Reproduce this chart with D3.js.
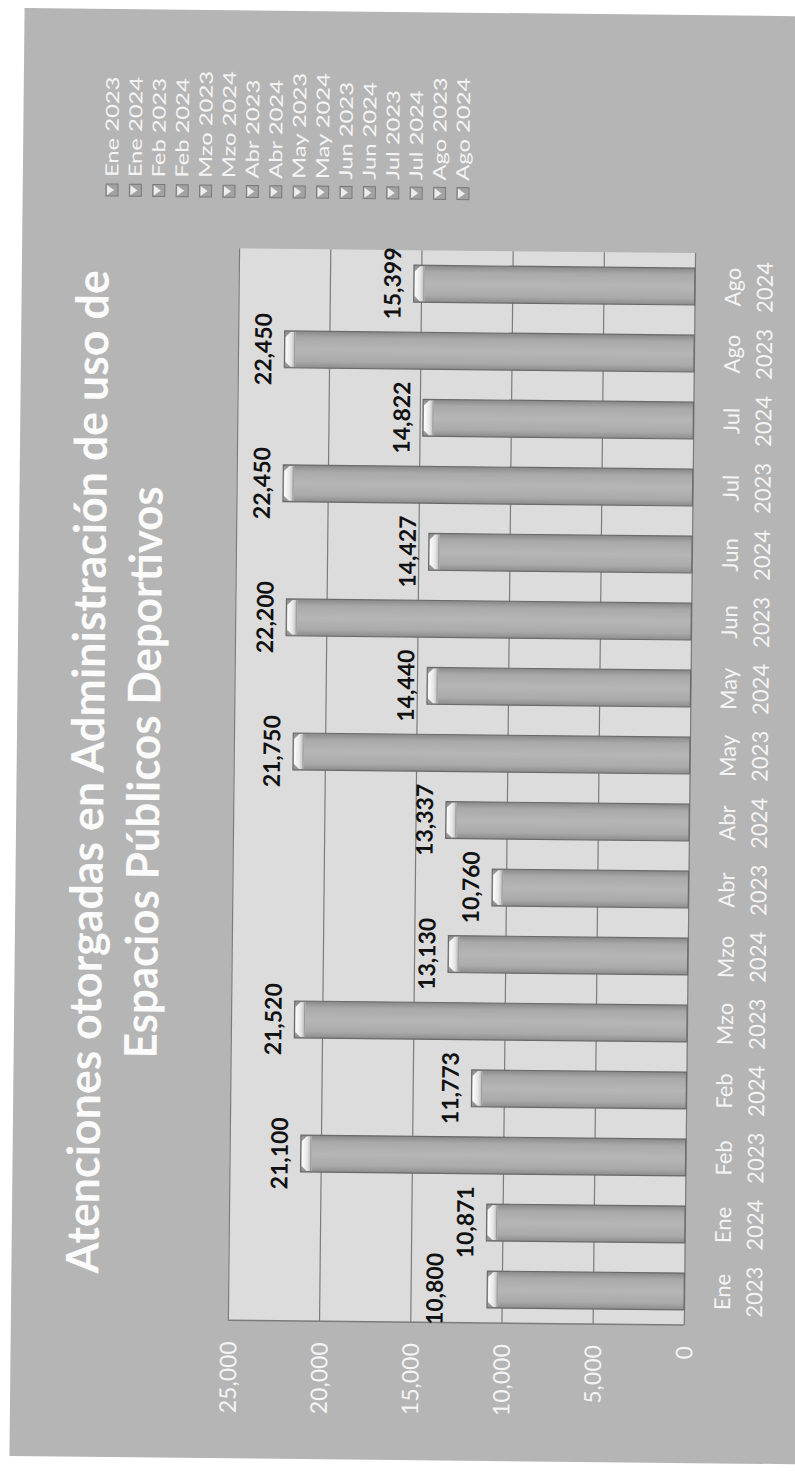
<!DOCTYPE html>
<html lang="es">
<head>
<meta charset="UTF-8">
<style>
  body { margin: 0; background: #fff; overflow: hidden; }
  svg { display: block; }
  .axis-text { font-family: Lato, "Open Sans", sans-serif; fill: #f4f4f4; }
  .value-label { font-family: Lato, "Open Sans", sans-serif; font-weight: 700; fill: #111; }
  .title { font-family: Lato, "Open Sans", sans-serif; font-weight: 700; fill: #fbfbfb; }
</style>
<script src="https://cdn.jsdelivr.net/npm/d3@7"></script>
</head>
<body>
<svg id="chart"></svg>
<script>
  const categories = ["Ene 2023", "Ene 2024", "Feb 2023", "Feb 2024", "Mzo 2023", "Mzo 2024",
    "Abr 2023", "Abr 2024", "May 2023", "May 2024", "Jun 2023", "Jun 2024",
    "Jul 2023", "Jul 2024", "Ago 2023", "Ago 2024"];
  const values = [10800, 10871, 21100, 11773, 21520, 13130, 10760, 13337,
    21750, 14440, 22200, 14427, 22450, 14822, 22450, 15399];
  const valueTicks = [0, 5000, 10000, 15000, 20000, 25000];
  const titleLines = ["Atenciones otorgadas en Administración de uso de", "Espacios Públicos Deportivos"];

  const svg = d3.select("#chart").attr("width", 795).attr("height", 1471);

  // the scan shows the chart turned on its side (and a bit crooked),
  // so build it upright and rotate the whole group
  const frameW = 1448, frameH = 830;
  const plot = { left: 138, right: 1210, top: 217, bottom: 673 };

  const defs = svg.append("defs");
  const barGrad = defs.append("linearGradient").attr("id", "barGrad")
    .attr("x1", 0).attr("x2", 1).attr("y1", 0).attr("y2", 0);
  [["0%", "#8c8c8c"], ["18%", "#aaaaaa"], ["50%", "#b6b6b6"], ["82%", "#a9a9a9"], ["100%", "#888888"]]
    .forEach(s => barGrad.append("stop").attr("offset", s[0]).attr("stop-color", s[1]));
  const capGrad = defs.append("linearGradient").attr("id", "capGrad")
    .attr("x1", 0).attr("x2", 0).attr("y1", 0).attr("y2", 1);
  [["0%", "#fdfdfd"], ["55%", "#e6e6e6"], ["100%", "#b2b2b2"]]
    .forEach(s => capGrad.append("stop").attr("offset", s[0]).attr("stop-color", s[1]));

  const root = svg.append("g")
    .attr("transform", "rotate(0.6,397,735) translate(17,1460) rotate(-90)");

  root.append("rect")
    .attr("x", 0).attr("y", 0).attr("width", frameW).attr("height", frameH)
    .attr("fill", "#b5b5b5");

  // title
  titleLines.forEach((t, i) => {
    root.append("text")
      .attr("class", "title")
      .attr("x", 685).attr("y", i === 0 ? 87 : 143)
      .attr("text-anchor", "middle")
      .attr("font-size", 45)
      .attr("textLength", i === 0 ? 1003 : 572)
      .attr("lengthAdjust", "spacingAndGlyphs")
      .text(t);
  });

  const x = d3.scaleBand()
    .domain(categories)
    .range([plot.left, plot.right])
    .paddingInner(0.45)
    .paddingOuter(0.225);

  const y = d3.scaleLinear()
    .domain([0, 25000])
    .range([plot.bottom, plot.top]);

  // plot area
  root.append("rect")
    .attr("x", plot.left).attr("y", plot.top)
    .attr("width", plot.right - plot.left).attr("height", plot.bottom - plot.top)
    .attr("fill", "#dcdcdc");

  // gridlines
  root.append("g")
    .attr("transform", `translate(${plot.left},0)`)
    .call(d3.axisLeft(y).tickValues(valueTicks).tickSize(-(plot.right - plot.left)).tickFormat(""))
    .call(g => g.select(".domain").remove())
    .call(g => g.selectAll("line").attr("stroke", "#7c7c7c").attr("stroke-width", 1.2));

  root.append("line")
    .attr("x1", plot.left).attr("x2", plot.left)
    .attr("y1", plot.top).attr("y2", plot.bottom)
    .attr("stroke", "#7c7c7c").attr("stroke-width", 1.5);

  // value axis
  root.append("g")
    .attr("transform", `translate(${plot.left},0)`)
    .call(d3.axisLeft(y).tickValues(valueTicks).tickSize(0).tickPadding(21).tickFormat(d3.format(",")))
    .call(g => g.select(".domain").remove())
    .call(g => g.selectAll("text")
      .attr("class", "axis-text")
      .attr("font-size", 23)
      .attr("dy", "0.36em"));

  // category axis, two lines per label
  root.append("g")
    .attr("transform", `translate(0,${plot.bottom})`)
    .call(d3.axisBottom(x).tickSize(0))
    .call(g => g.select(".domain").remove())
    .call(g => g.selectAll("text").each(function (d) {
      const parts = d.split(" ");
      const t = d3.select(this).text("")
        .attr("class", "axis-text")
        .attr("font-size", 22)
        .attr("dy", 0).attr("y", 0);
      t.append("tspan").attr("x", 0).attr("y", 46).text(parts[0]);
      t.append("tspan").attr("x", 0).attr("y", 78).text(parts[1]);
    }));

  // bars
  const capH = 10;
  const bars = root.append("g").selectAll("g.bar")
    .data(categories.map((c, i) => ({ cat: c, value: values[i] })))
    .join("g").attr("class", "bar");

  bars.append("rect")
    .attr("x", d => x(d.cat))
    .attr("y", d => y(d.value))
    .attr("width", x.bandwidth())
    .attr("height", d => plot.bottom - y(d.value))
    .attr("fill", "url(#barGrad)")
    .attr("stroke", "#6a6a6a")
    .attr("stroke-width", 1.2);

  bars.append("path")
    .attr("d", d => {
      const x0 = x(d.cat) + 1, x1 = x(d.cat) + x.bandwidth() - 1, y0 = y(d.value) + 1;
      const b = 5;
      return `M${x0},${y0 + b}L${x0 + b},${y0}L${x1 - b},${y0}L${x1},${y0 + b}` +
        `L${x1},${y0 + capH}L${x0},${y0 + capH}Z`;
    })
    .attr("fill", "url(#capGrad)");

  bars.append("line")
    .attr("x1", d => x(d.cat) + 1).attr("x2", d => x(d.cat) + x.bandwidth() - 1)
    .attr("y1", d => y(d.value) + capH).attr("y2", d => y(d.value) + capH)
    .attr("stroke", "#9a9a9a").attr("stroke-width", 1);

  // data labels
  const labels = bars.append("text")
    .attr("class", "value-label")
    .attr("x", d => x(d.cat) + x.bandwidth() / 2)
    .attr("y", d => y(d.value) - 13)
    .attr("text-anchor", "middle")
    .attr("font-size", 23)
    .text(d => d3.format(",")(d.value));

  // push a label up when it runs into its right-hand neighbour (as Excel did)
  const nodes = labels.nodes();
  for (let i = nodes.length - 2; i >= 0; i--) {
    const a = nodes[i].getBBox(), b = nodes[i + 1].getBBox();
    const overlapX = a.x + a.width > b.x && b.x + b.width > a.x;
    const overlapY = a.y + a.height > b.y && b.y + b.height > a.y;
    if (overlapX && overlapY) {
      const cur = +nodes[i].getAttribute("y");
      nodes[i].setAttribute("y", cur - (a.y + a.height - b.y) - 2);
    }
  }

  // legend (text is stretched in the scan)
  const legend = root.append("g").selectAll("g")
    .data(categories)
    .join("g")
    .attr("transform", (d, i) => `translate(1267,${89.3 + i * 23.4})`);

  legend.append("rect")
    .attr("x", -6).attr("y", -6).attr("width", 12).attr("height", 12)
    .attr("fill", "#a2a2a2").attr("stroke", "#7a7a7a");
  legend.append("path")
    .attr("d", "M-5,-5L5,-5L0,2Z")
    .attr("fill", "#ededed");

  legend.append("text")
    .attr("class", "axis-text")
    .attr("x", 13).attr("y", 6)
    .attr("font-size", 18)
    .text(d => d)
    .each(function () {
      const w = this.getComputedTextLength();
      d3.select(this).attr("textLength", w * 1.32).attr("lengthAdjust", "spacingAndGlyphs");
    });
</script>
</body>
</html>
